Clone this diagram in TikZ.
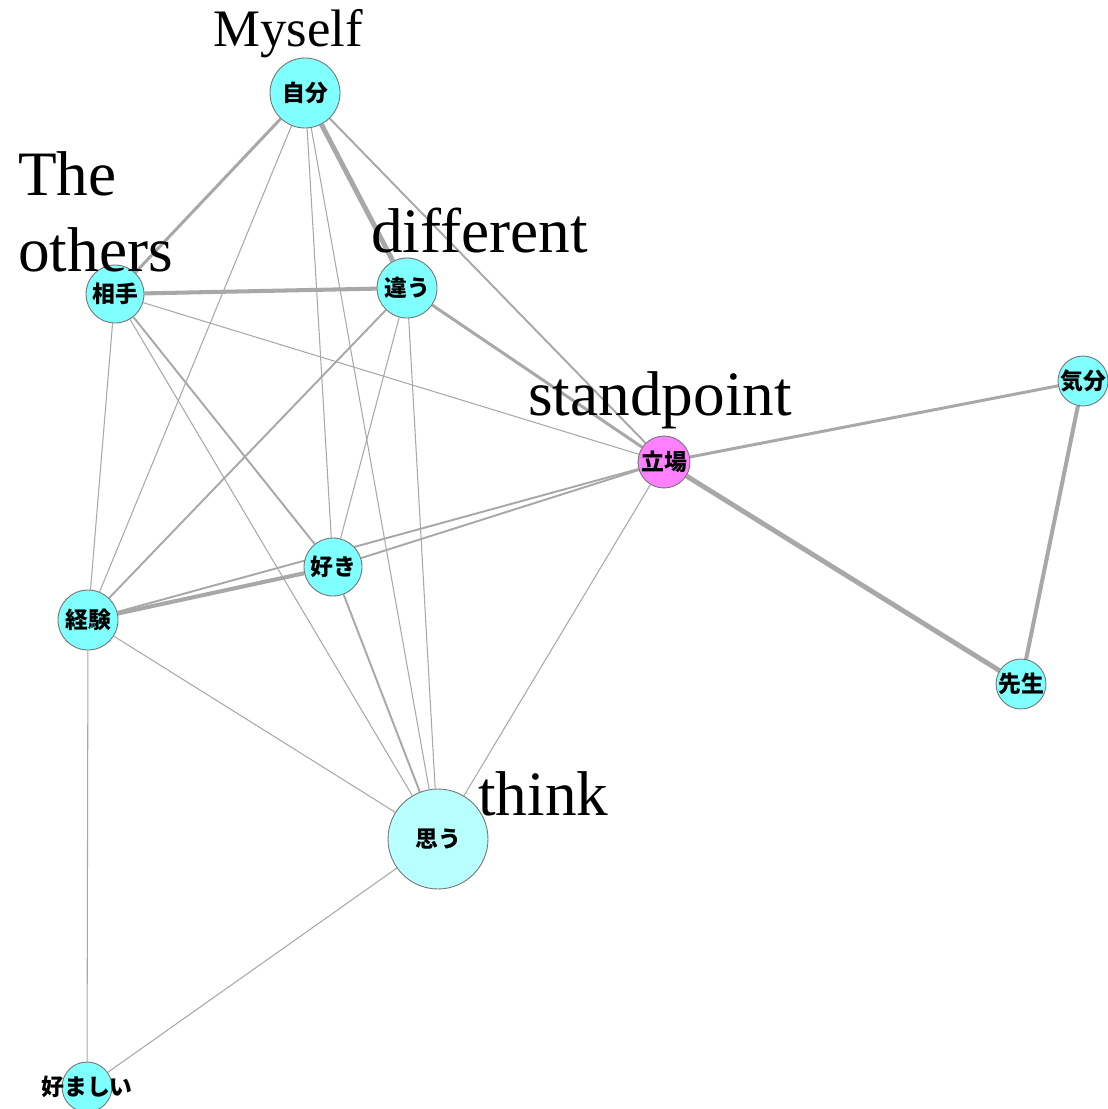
\documentclass[tikz,border=0pt]{standalone}
\usepackage{fontspec}
\setmainfont{Liberation Serif}
\newfontfamily\jpfont{Noto Sans CJK JP}
\usepackage{tikz}
\usetikzlibrary{backgrounds}

\definecolor{wordfill}{RGB}{128,255,255}
\definecolor{wordpale}{RGB}{184,255,255}
\definecolor{wordpink}{RGB}{255,128,255}
\definecolor{linkgray}{RGB}{168,168,168}

% keep the word inside its circle from widening it
\newcommand{\kw}[1]{\makebox[0pt]{#1}}

\begin{document}
\begin{tikzpicture}[x=0.02cm,y=-0.02cm,line cap=round,
  word/.style={circle,draw=black!55,line width=0.5pt,fill=wordfill,inner sep=0pt,
    font=\jpfont\bfseries\fontsize{13}{15}\selectfont},
  tag/.style={anchor=base west,inner sep=0pt,font=\fontsize{36}{40}\selectfont},
  e1/.style={draw=linkgray,line width=0.6pt},
  e2/.style={draw=linkgray,line width=1.1pt},
  e3/.style={draw=linkgray,line width=1.7pt},
  e4/.style={draw=linkgray,line width=2.3pt},
  e5/.style={draw=linkgray,line width=2.8pt}]
\useasboundingbox (0,0) rectangle (1107,1109);
% words
\node[word,minimum size=1.4cm] (jibun) at (305,93) {\kw{自分}};
\node[word,minimum size=1.16cm] (aite) at (115,294) {\kw{相手}};
\node[word,minimum size=1.2cm] (chigau) at (407,288) {\kw{違う}};
\node[word,minimum size=1.04cm,fill=wordpink] (tachiba) at (664,462) {\kw{立場}};
\node[word,minimum size=1cm] (kibun) at (1083,381) {\kw{気分}};
\node[word,minimum size=1cm] (sensei) at (1021,684) {\kw{先生}};
\node[word,minimum size=1.16cm] (suki) at (333,567) {\kw{好き}};
\node[word,minimum size=1.2cm] (keiken) at (88,620) {\kw{経験}};
\node[word,minimum size=2cm,fill=wordpale] (omou) at (438,839) {\kw{思う}};
\node[word,minimum size=1cm] (konomashii) at (87,1087) {\kw{好ましい}};
% co-occurrence lines
\begin{scope}[on background layer]
\draw[e3] (jibun) -- (aite);
\draw[e5] (jibun) -- (chigau);
\draw[e2] (jibun) -- (tachiba);
\draw[e1] (jibun) -- (keiken);
\draw[e1] (jibun) -- (suki);
\draw[e1] (jibun) -- (omou);
\draw[e4] (aite) -- (chigau);
\draw[e1] (aite) -- (tachiba);
\draw[e1] (aite) -- (keiken);
\draw[e2] (aite) -- (suki);
\draw[e1] (aite) -- (omou);
\draw[e3] (chigau) -- (tachiba);
\draw[e2] (chigau) -- (keiken);
\draw[e1] (chigau) -- (suki);
\draw[e1] (chigau) -- (omou);
\draw[e3] (tachiba) -- (kibun);
\draw[e5] (tachiba) -- (sensei);
\draw[e2] (tachiba) -- (keiken);
\draw[e2] (tachiba) -- (suki);
\draw[e1] (tachiba) -- (omou);
\draw[e4] (kibun) -- (sensei);
\draw[e4] (suki) -- (keiken);
\draw[e2] (suki) -- (omou);
\draw[e1] (keiken) -- (omou);
\draw[e1] (keiken) -- (konomashii);
\draw[e1] (omou) -- (konomashii);
\end{scope}
% english glosses
\node[tag,font=\fontsize{30}{34}\selectfont] (myself) at (213,46) {Myself};
\node[tag] (the) at (18,195) {The};
\node[tag] (others) at (18,271) {others};
\node[tag] (different) at (371,252) {different};
\node[tag] (standpoint) at (528,415) {standpoint};
\node[tag] (think) at (478,815) {think};
\end{tikzpicture}
\end{document}
